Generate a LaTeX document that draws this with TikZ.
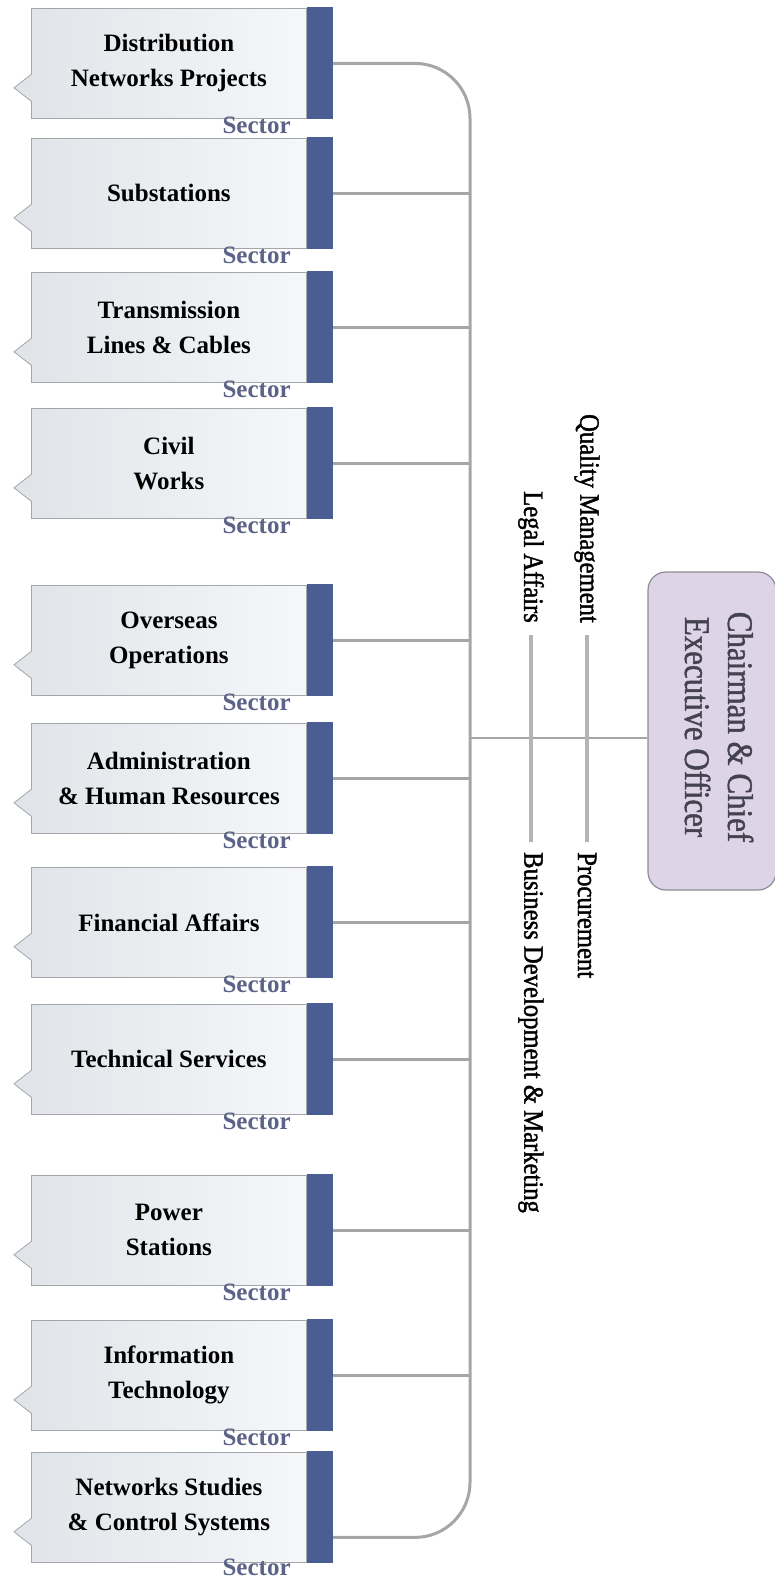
\documentclass[tikz,border=0pt]{standalone}
\usepackage{fontspec}
\setmainfont{Liberation Serif}
\newfontfamily\narrowserif[FakeStretch=0.88,FakeBold=1.4]{Liberation Serif}
\newfontfamily\ceoserif[FakeStretch=0.86,FakeBold=1.2]{Liberation Serif}
\usetikzlibrary{positioning}

\definecolor{boxleft}{HTML}{E1E5E9}
\definecolor{boxright}{HTML}{F5F7F9}
\definecolor{boxline}{HTML}{A3A6AA}
\definecolor{barblue}{HTML}{4B5E93}
\definecolor{sectxt}{HTML}{5B6388}
\definecolor{wire}{HTML}{A6A6A6}
\definecolor{staffgrey}{HTML}{B4B4B4}
\definecolor{ceofill}{HTML}{DDD4E8}
\definecolor{ceoline}{HTML}{8E8C94}
\definecolor{ceotxt}{HTML}{45424F}

\tikzset{
  sbox/.style={draw=boxline, line width=0.8pt, left color=boxleft, right color=boxright,
    minimum width=275pt, minimum height=110pt, anchor=north west, align=center,
    font=\fontsize{25}{35}\selectfont\bfseries},
  sbar/.style={fill=barblue, minimum width=26pt, minimum height=112pt, inner sep=0pt},
  notch/.style={fill=boxleft, draw=boxline, line width=0.8pt},
  seclbl/.style={anchor=base east, text=sectxt, inner sep=0pt,
    font=\fontsize{25}{25}\selectfont\bfseries},
  link/.style={draw=wire, line width=2.4pt},
  trunk/.style={draw=wire, line width=3pt},
  staff/.style={rotate=-90, inner sep=0pt, font=\narrowserif\fontsize{28}{30}\selectfont},
  staffline/.style={draw=staffgrey, line width=3.5pt},
  ceobox/.style={draw=ceoline, line width=1.2pt, fill=ceofill, rounded corners=18pt,
    minimum width=128pt, minimum height=318pt},
  ceotext/.style={rotate=-90, align=center, text=ceotxt, inner sep=0pt,
    font=\ceoserif\fontsize{36}{43}\selectfont}
}

\begin{document}
\begin{tikzpicture}[x=1pt,y=-1pt]
  \useasboundingbox (0,0) rectangle (774,1582);

  % sector boxes
  \node[sbox] (dnp) at (31,8) {Distribution\\Networks Projects};
  \node[sbox] (sub) at (31,138) {Substations};
  \node[sbox] (tlc) at (31,272) {Transmission\\Lines \& Cables};
  \node[sbox] (civ) at (31,408) {Civil\\Works};
  \node[sbox] (ovs) at (31,585) {Overseas\\Operations};
  \node[sbox] (ahr) at (31,723) {Administration\\\& Human Resources};
  \node[sbox] (fin) at (31,867) {Financial Affairs};
  \node[sbox] (tec) at (31,1004) {Technical Services};
  \node[sbox] (pow) at (31,1175) {Power\\Stations};
  \node[sbox] (itc) at (31,1320) {Information\\Technology};
  \node[sbox] (nsc) at (31,1452) {Networks Studies\\\& Control Systems};

  \node[sbar, right=0pt of dnp] (dnpbar) {};
  \node[sbar, right=0pt of sub] (subbar) {};
  \node[sbar, right=0pt of tlc] (tlcbar) {};
  \node[sbar, right=0pt of civ] (civbar) {};
  \node[sbar, right=0pt of ovs] (ovsbar) {};
  \node[sbar, right=0pt of ahr] (ahrbar) {};
  \node[sbar, right=0pt of fin] (finbar) {};
  \node[sbar, right=0pt of tec] (tecbar) {};
  \node[sbar, right=0pt of pow] (powbar) {};
  \node[sbar, right=0pt of itc] (itcbar) {};
  \node[sbar, right=0pt of nsc] (nscbar) {};

  \filldraw[notch] ([xshift=1pt,yshift=17pt]dnp.south west) -- ++(-18pt,14pt) -- ++(18pt,14pt);
  \filldraw[notch] ([xshift=1pt,yshift=17pt]sub.south west) -- ++(-18pt,14pt) -- ++(18pt,14pt);
  \filldraw[notch] ([xshift=1pt,yshift=17pt]tlc.south west) -- ++(-18pt,14pt) -- ++(18pt,14pt);
  \filldraw[notch] ([xshift=1pt,yshift=17pt]civ.south west) -- ++(-18pt,14pt) -- ++(18pt,14pt);
  \filldraw[notch] ([xshift=1pt,yshift=17pt]ovs.south west) -- ++(-18pt,14pt) -- ++(18pt,14pt);
  \filldraw[notch] ([xshift=1pt,yshift=17pt]ahr.south west) -- ++(-18pt,14pt) -- ++(18pt,14pt);
  \filldraw[notch] ([xshift=1pt,yshift=17pt]fin.south west) -- ++(-18pt,14pt) -- ++(18pt,14pt);
  \filldraw[notch] ([xshift=1pt,yshift=17pt]tec.south west) -- ++(-18pt,14pt) -- ++(18pt,14pt);
  \filldraw[notch] ([xshift=1pt,yshift=17pt]pow.south west) -- ++(-18pt,14pt) -- ++(18pt,14pt);
  \filldraw[notch] ([xshift=1pt,yshift=17pt]itc.south west) -- ++(-18pt,14pt) -- ++(18pt,14pt);
  \filldraw[notch] ([xshift=1pt,yshift=17pt]nsc.south west) -- ++(-18pt,14pt) -- ++(18pt,14pt);

  \node[seclbl] (dnpsec) at ([xshift=-16pt,yshift=-15pt]dnp.south east) {Sector};
  \node[seclbl] (subsec) at ([xshift=-16pt,yshift=-15pt]sub.south east) {Sector};
  \node[seclbl] (tlcsec) at ([xshift=-16pt,yshift=-15pt]tlc.south east) {Sector};
  \node[seclbl] (civsec) at ([xshift=-16pt,yshift=-15pt]civ.south east) {Sector};
  \node[seclbl] (ovssec) at ([xshift=-16pt,yshift=-15pt]ovs.south east) {Sector};
  \node[seclbl] (ahrsec) at ([xshift=-16pt,yshift=-15pt]ahr.south east) {Sector};
  \node[seclbl] (finsec) at ([xshift=-16pt,yshift=-15pt]fin.south east) {Sector};
  \node[seclbl] (tecsec) at ([xshift=-16pt,yshift=-15pt]tec.south east) {Sector};
  \node[seclbl] (powsec) at ([xshift=-16pt,yshift=-15pt]pow.south east) {Sector};
  \node[seclbl] (itcsec) at ([xshift=-16pt,yshift=-15pt]itc.south east) {Sector};
  \node[seclbl] (nscsec) at ([xshift=-16pt,yshift=-13pt]nsc.south east) {Sector};

  % chairman and staff units
  \node[ceobox] (ceo) at (712,731) {};
  \node[ceotext] (ceolbl) at (719,727) {Chairman \& Chief\\Executive Officer};
  \coordinate (hub) at (470,738);

  \node[staff, anchor=east] (qm) at (587,623) {Quality Management};
  \node[staff, anchor=east] (legal) at (531,623) {Legal Affairs};
  \node[staff, anchor=west] (proc) at (587,852) {Procurement};
  \node[staff, anchor=west] (bdm) at (531,852) {Business Development \& Marketing};

  % connectors
  \draw[trunk, rounded corners=55pt] (dnpbar.east) -| (hub) |- ([yshift=-30pt]nscbar.east);
  \draw[link] (subbar.east) -- (subbar.east -| hub);
  \draw[link] (tlcbar.east) -- (tlcbar.east -| hub);
  \draw[link] (civbar.east) -- (civbar.east -| hub);
  \draw[link] (ovsbar.east) -- (ovsbar.east -| hub);
  \draw[link] (ahrbar.east) -- (ahrbar.east -| hub);
  \draw[link] (finbar.east) -- (finbar.east -| hub);
  \draw[link] (tecbar.east) -- (tecbar.east -| hub);
  \draw[link] (powbar.east) -- (powbar.east -| hub);
  \draw[link] (itcbar.east) -- (itcbar.east -| hub);
  \draw[link, line width=2pt] (hub) -- (hub -| ceo.west);
  \draw[staffline, shorten <=12pt, shorten >=10pt] (qm.east) -- (proc.west);
  \draw[staffline, shorten <=12pt, shorten >=10pt] (legal.east) -- (bdm.west);
\end{tikzpicture}
\end{document}
